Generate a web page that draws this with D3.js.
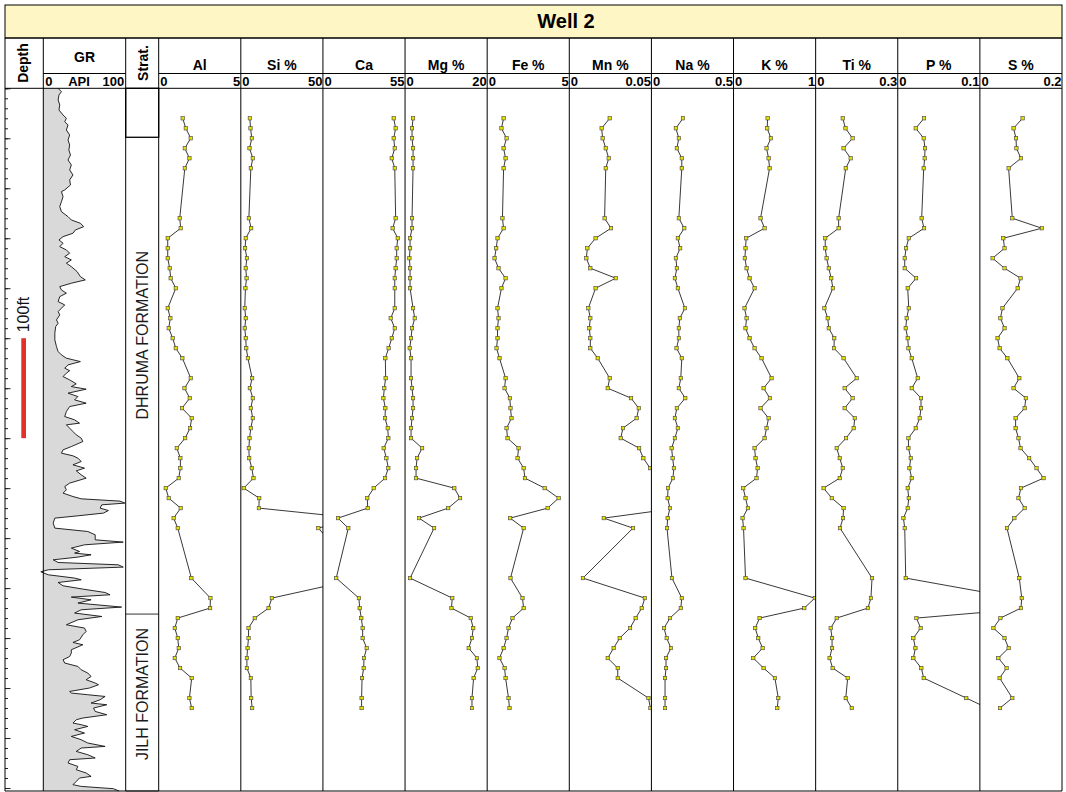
<!DOCTYPE html>
<html><head><meta charset="utf-8">
<script src="https://cdn.jsdelivr.net/npm/d3@7"></script>
<style>
body{margin:0;background:#fff}
svg{display:block}
text{font-family:"Liberation Sans",Arial,Helvetica,sans-serif}
</style>
</head><body>
<svg id="c" width="1066" height="792"></svg>
<script>
// ---------------- DATA ----------------
const title = "Well 2";
const trackNames = ["Al","Si %","Ca","Mg %","Fe %","Mn %","Na %","K %","Ti %","P %","S %"];
const trackMax = [5, 50, 55, 20, 5, 0.05, 0.5, 1, 0.3, 0.1, 0.2];
const trackMaxLabels = ["5","50","55","20","5","0.05","0.5","1","0.3","0.1","0.2"];
const formations = ["DHRUMA FORMATION","JILH FORMATION"];
const formationTop = [49, 526];     // ft below top of log
const formationBase = [526, 703];
const formationLabelCenter = [247, 606];

// sample depths (ft below top of log)
const sampleDepth = [30,40,50,60,70,80,130,140,150,160,170,180,190,200,220,230,240,250,260,270,
 290,300,310,320,330,340,350,360,370,380,390,400,410,420,430,440,490,510,520,530,540,550,560,570,580,590,610,620];

const Al = [1.46,1.65,1.95,1.59,1.87,1.59,1.28,1.34,0.55,0.55,0.55,0.67,0.73,1.04,0.55,0.71,0.61,0.85,1.04,1.44,
 1.95,1.57,1.89,1.42,2.01,1.91,1.61,1.10,1.32,1.32,1.22,0.43,0.61,1.34,0.91,1.16,1.99,3.15,3.13,1.16,0.98,1.16,1.22,0.98,1.30,2.01,1.87,2.01];
const Si = [5.5,5.9,6.7,5.3,7.3,6.1,4.9,6.3,3.0,2.6,3.7,3.0,3.5,2.8,2.4,3.0,2.4,3.0,3.3,4.3,
 6.9,5.5,7.3,6.1,7.3,6.1,5.3,4.9,5.1,6.7,7.7,1.8,11.2,11.0,70,47.2,74,18.9,16.9,8.5,4.7,4.7,4.1,3.7,3.7,6.1,6.3,6.9];
const Ca = [47.4,48.7,47.4,48.1,46.1,48.1,48.7,46.7,50.1,49.4,49.4,48.7,48.1,48.1,48.1,45.4,48.1,46.1,44.0,41.8,
 42.0,41.1,40.5,41.8,41.6,43.4,43.8,40.7,42.5,43.8,41.6,34.0,29.7,30.0,10.1,17.0,8.9,24.1,24.6,25.7,26.6,26.6,29.3,27.5,27.3,26.2,25.9,25.9];
const Mg = [1.95,1.7,1.7,1.95,1.95,1.95,1.7,1.7,1.22,1.22,1.06,1.22,1.22,1.22,1.95,2.36,1.7,1.46,1.14,1.46,
 1.46,1.7,1.95,1.95,1.7,1.46,1.46,4.15,2.93,2.68,2.68,12.0,13.4,10.5,3.4,7.07,1.22,11.5,11.3,16.0,16.6,16.3,15.5,17.5,17.7,16.7,16.3,16.3];
const Fe = [1.0,0.87,1.18,1.0,1.12,1.0,0.93,1.0,0.63,0.55,0.45,0.69,1.12,0.87,0.63,0.69,0.63,0.63,0.57,0.75,
 1.12,1.06,1.38,1.42,1.48,1.18,1.24,1.91,1.85,2.22,2.3,3.5,4.35,3.68,1.4,2.22,1.42,2.15,2.22,1.54,1.3,1.18,1.0,0.75,1.06,1.12,1.3,1.36];
const Mn = [0.0246,0.0197,0.0203,0.0222,0.024,0.0222,0.0215,0.0254,0.016,0.011,0.0104,0.0128,0.0283,0.016,0.0116,0.0128,0.0122,0.0128,0.0128,0.0173,
 0.0246,0.0234,0.0376,0.0423,0.041,0.0327,0.0313,0.0425,0.0451,0.0492,0.06,0.07,0.07,0.066,0.021,0.0388,0.0083,0.046,0.0441,0.0404,0.037,0.0307,0.027,0.0234,0.0295,0.0295,0.0482,0.0494];
const Na = [0.192,0.149,0.167,0.155,0.185,0.185,0.167,0.2,0.161,0.175,0.149,0.155,0.143,0.161,0.204,0.173,0.167,0.167,0.153,0.185,
 0.179,0.167,0.206,0.155,0.143,0.161,0.143,0.123,0.129,0.137,0.131,0.101,0.099,0.113,0.099,0.095,0.125,0.185,0.179,0.113,0.077,0.093,0.119,0.089,0.089,0.083,0.083,0.083];
const K = [0.415,0.41,0.455,0.402,0.427,0.439,0.329,0.378,0.154,0.146,0.138,0.159,0.195,0.256,0.134,0.159,0.146,0.195,0.256,0.341,
 0.463,0.366,0.443,0.329,0.427,0.402,0.378,0.256,0.268,0.293,0.28,0.118,0.146,0.175,0.11,0.122,0.146,0.99,0.862,0.317,0.264,0.301,0.354,0.24,0.366,0.504,0.545,0.533];
const Ti = [0.099,0.109,0.135,0.102,0.128,0.11,0.084,0.084,0.035,0.035,0.04,0.048,0.057,0.063,0.032,0.044,0.048,0.068,0.067,0.102,
 0.15,0.106,0.135,0.106,0.143,0.139,0.111,0.077,0.088,0.099,0.088,0.029,0.059,0.102,0.1,0.089,0.206,0.202,0.191,0.077,0.055,0.06,0.06,0.051,0.062,0.117,0.11,0.132];
const P = [0.032,0.0219,0.0316,0.0332,0.0328,0.0316,0.0291,0.032,0.0134,0.0101,0.0085,0.0085,0.0223,0.0121,0.0134,0.0109,0.0097,0.0121,0.013,0.017,
 0.0243,0.017,0.0283,0.0283,0.0267,0.0219,0.013,0.013,0.0158,0.0142,0.017,0.0121,0.0134,0.0121,0.0069,0.0085,0.0097,0.145,0.166,0.0227,0.0279,0.019,0.0215,0.019,0.0287,0.0316,0.0834,0.109];
const S = [0.104,0.082,0.088,0.089,0.1,0.07,0.079,0.151,0.057,0.06,0.031,0.06,0.099,0.092,0.055,0.05,0.06,0.043,0.048,0.067,
 0.096,0.082,0.112,0.109,0.087,0.087,0.094,0.099,0.12,0.138,0.155,0.1,0.094,0.109,0.084,0.066,0.096,0.102,0.1,0.05,0.033,0.06,0.07,0.045,0.065,0.048,0.079,0.049];
const trackValues = [Al,Si,Ca,Mg,Fe,Mn,Na,K,Ti,P,S];

// gamma ray log (API) vs depth (ft)
const grDepth = [0,3.4,6.7,11.7,16.7,21.7,26.7,30,33.4,36.7,41.7,46.7,51.7,56.7,61.7,66.7,71.7,76.7,81.7,86.7,91.7,96.7,101.7,103.4,108.4,113.4,118.4,123.4,128.4,131.7,135,138.4,141.7,145,148.4,151.7,155,158.4,161.7,165,168.4,171.7,175,178.4,183.4,188.4,191.7,195,198.4,201.7,205,208.4,213.4,216.7,220,223.4,226.7,231.7,235,238.4,245,251.7,258.4,263.4,266.7,270,273.4,276.7,280,282.5,285,288.4,291.7,295.7,298.4,301,305,308.4,311.7,315,318.4,323.4,328.4,331.7,335,336.7,340,343.4,346.7,350,353.4,358.4,361.7,365,367.7,370,373.4,376.7,380,382.7,386.7,390,395,398.4,401.7,405,408.4,410.7,413,415,416.7,420,422.4,425,427.7,430,435,440,443.4,446.7,451.7,454,456.7,460,463.4,465,466.7,469,471.7,474.4,476.7,479,481.7,483.7,486.7,490,491.7,494.4,497.7,501,504.4,506.7,509,511.7,515,519,521.7,525,528.4,531.7,536.7,540,543.4,546.7,551.7,554.4,556.7,561.7,565,568.4,571.7,575,578.4,581.7,585,588.4,591.7,595,596.7,600,603.4,605,606.7,608.4,611.7,615,616.7,620,623.4,626.7,630,631.7,635,636.7,638.4,641.7,645,648.4,651.7,655,658.4,660,663.4,666.7,670,671.7,675,678.4,681.7,685,688.4,690,693.4,696.7,698.4,700.7,703];
const grValue = [18,22,19,18,20,19,24,28,26,30,28,32,30,32,31,33,30,34,32,36,32,33,26,22,24,22,20,22,30,34,45,49,39,36,24,19,24,20,28,32,26,34,28,34,41,45,51,34,20,22,28,20,18,26,22,18,20,16,18,15,14,14,16,18,22,28,45,30,26,32,28,24,32,40,34,52,30,42,38,52,32,28,26,38,44,28,32,36,40,46,48,34,24,22,36,42,46,36,50,40,46,52,32,26,28,24,36,46,93,99,71,69,79,73,42,14,12,14,54,63,63,97,50,34,44,38,58,42,12,18,91,97,6,-3,6,38,46,18,24,48,75,81,34,58,42,95,46,38,71,42,28,50,52,48,44,36,48,34,34,32,24,26,42,46,54,58,52,63,67,56,32,34,54,75,69,58,77,61,63,77,48,40,36,46,54,38,50,34,46,54,75,46,40,54,63,32,30,42,40,52,58,44,40,36,46,85,92];

// depth ruler ticks (ft)
const minorTicks = d3.range(0, 701, 10);
const majorTicks = d3.range(0, 701, 50);
const scaleBarFt = [250, 350];

// ---------------- LAYOUT ----------------
const svg = d3.select("#c");
const X0 = 5, X1 = 1062;
const Y_TITLE = 5, Y_HEAD = 38, Y_SUB = 73.5, Y_DATA = 88.3, Y_BOT = 791;
const DEPTH_R = 43.3, GR_R = 125.7, STRAT_R = 158.7;
const TW = (X1 - STRAT_R) / trackNames.length;
const FONT_B = "bold";

const y = d3.scaleLinear().domain([0, 703]).range([Y_DATA, Y_BOT]);

svg.append("rect").attr("x",0).attr("y",0).attr("width",1066).attr("height",792).attr("fill","#fff");

// title band
svg.append("rect").attr("x",X0).attr("y",Y_TITLE).attr("width",X1-X0).attr("height",Y_HEAD-Y_TITLE)
  .attr("fill","#fff6c6").attr("stroke","#000").attr("stroke-width",1);
svg.append("text").attr("x",566).attr("y",28).attr("text-anchor","middle")
  .attr("font-size",20).attr("font-weight",FONT_B).text(title);

// GR track
const xGR = d3.scaleLinear().domain([0,100]).range([DEPTH_R, GR_R]);
const grData = grDepth.map((d,i)=>({d, v: grValue[i]}));
svg.append("path").datum(grData)
  .attr("d", d3.area().y(d=>y(d.d)).x0(xGR(0)).x1(d=>xGR(d.v)))
  .attr("fill","#d9d9d9");
svg.append("path").datum(grData)
  .attr("d", d3.line().y(d=>y(d.d)).x(d=>xGR(d.v)))
  .attr("fill","none").attr("stroke","#111").attr("stroke-width",0.9);

// element tracks
trackNames.forEach((name,i)=>{
  const L = STRAT_R + i*TW, R = L + TW;
  const x = d3.scaleLinear().domain([0, trackMax[i]]).range([L, R]);
  const id = "clip"+i;
  svg.append("clipPath").attr("id",id).append("rect")
    .attr("x",L).attr("y",Y_DATA).attr("width",TW).attr("height",Y_BOT-Y_DATA);
  const data = sampleDepth.map((d,k)=>({d, v: trackValues[i][k]}));
  const g = svg.append("g").attr("clip-path",`url(#${id})`);
  g.append("path").datum(data)
    .attr("d", d3.line().x(d=>x(d.v)).y(d=>y(d.d)))
    .attr("fill","none").attr("stroke","#222").attr("stroke-width",0.9);
  g.selectAll("rect.pt").data(data.filter(d=>d.v>=0 && d.v<=trackMax[i])).join("rect")
    .attr("class","pt")
    .attr("x",d=>x(d.v)-1.7).attr("y",d=>y(d.d)-1.7).attr("width",3.4).attr("height",3.4)
    .attr("fill","#e6df00").attr("stroke","#444").attr("stroke-width",0.6);
  // header labels
  svg.append("text").attr("x",(L+R)/2).attr("y",70).attr("text-anchor","middle")
    .attr("font-size",14).attr("font-weight",FONT_B).text(name);
  svg.append("text").attr("x",x(0)+1.5).attr("y",85.5).attr("text-anchor","start")
    .attr("font-size",13).attr("font-weight",FONT_B).text("0");
  svg.append("text").attr("x",x(trackMax[i])-0.5).attr("y",85.5).attr("text-anchor","end")
    .attr("font-size",13).attr("font-weight",FONT_B).text(trackMaxLabels[i]);
});

// GR header
svg.append("text").attr("x",(DEPTH_R+GR_R)/2).attr("y",62).attr("text-anchor","middle")
  .attr("font-size",14).attr("font-weight",FONT_B).text("GR");
svg.append("text").attr("x",xGR(0)+2).attr("y",85.5).attr("font-size",13).attr("font-weight",FONT_B).text("0");
svg.append("text").attr("x",79).attr("y",85.5).attr("text-anchor","middle").attr("font-size",13).attr("font-weight",FONT_B).text("API");
svg.append("text").attr("x",xGR(100)-1.5).attr("y",85.5).attr("text-anchor","end").attr("font-size",13).attr("font-weight",FONT_B).text("100");

// Depth & Strat headers (rotated)
svg.append("text").attr("transform","translate(28,63) rotate(-90)").attr("text-anchor","middle")
  .attr("font-size",14).attr("font-weight",FONT_B).text("Depth");
svg.append("text").attr("transform","translate(147.5,63) rotate(-90)").attr("text-anchor","middle")
  .attr("font-size",14).attr("font-weight",FONT_B).text("Strat.");

// strat column
svg.append("rect").attr("x",GR_R).attr("y",Y_DATA).attr("width",STRAT_R-GR_R).attr("height",y(formationTop[0])-Y_DATA)
  .attr("fill","none").attr("stroke","#000").attr("stroke-width",1.3);
formations.forEach((f,i)=>{
  svg.append("line").attr("x1",GR_R).attr("x2",STRAT_R).attr("y1",y(formationBase[i])).attr("y2",y(formationBase[i]))
    .attr("stroke","#333").attr("stroke-width",1);
  svg.append("text").attr("transform",`translate(${(GR_R+STRAT_R)/2+6},${y(formationLabelCenter[i])}) rotate(-90)`)
    .attr("text-anchor","middle").attr("font-size",16).attr("fill","#1a1a1a").text(f);
});

// depth ruler
const minorAxis = d3.axisRight(y).tickValues(minorTicks).tickSize(3).tickFormat("");
const majorAxis = d3.axisRight(y).tickValues(majorTicks).tickSize(5.5).tickFormat("");
[minorAxis, majorAxis].forEach(ax=>{
  const g = svg.append("g").attr("transform",`translate(${X0},0)`).call(ax);
  g.select(".domain").remove();
  g.selectAll("line").attr("stroke","#222").attr("stroke-width",1);
});
svg.append("rect").attr("x",21.3).attr("width",4.7).attr("y",y(scaleBarFt[0])).attr("height",y(scaleBarFt[1])-y(scaleBarFt[0]))
  .attr("fill","#e0322a");
svg.append("text").attr("transform","translate(29,314.5) rotate(-90)").attr("text-anchor","middle")
  .attr("font-size",16).attr("fill","#111").text("100ft");

// grid lines / borders
const vx = [X0, DEPTH_R, GR_R, STRAT_R].concat(d3.range(1, trackNames.length+1).map(k=>STRAT_R + k*TW));
vx.forEach(xx=>{
  svg.append("line").attr("x1",xx).attr("x2",xx).attr("y1",Y_HEAD).attr("y2",Y_BOT)
    .attr("stroke","#000").attr("stroke-width",1);
});
[[X0,X1,Y_HEAD],[X0,X1,Y_DATA],[X0,X1,Y_BOT],[DEPTH_R,GR_R,Y_SUB],[STRAT_R,X1,Y_SUB]].forEach(([a,b,yy])=>{
  svg.append("line").attr("x1",a).attr("x2",b).attr("y1",yy).attr("y2",yy).attr("stroke","#000").attr("stroke-width",1);
});
</script>
</body></html>
